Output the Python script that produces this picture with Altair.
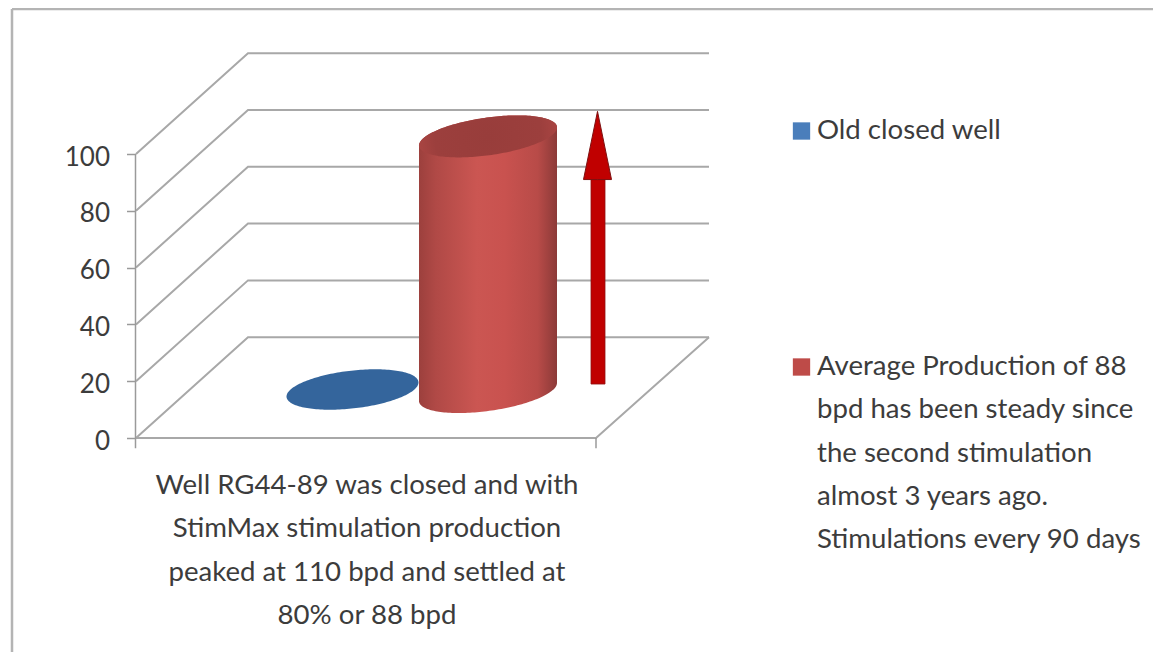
import altair as alt
import numpy as np
import pandas as pd

# ---- values
axis_ticks = [0, 20, 40, 60, 80, 100]
well_values = [0, 90]
category_lines = ["Well RG44-89 was closed and with",
                  "StimMax stimulation production",
                  "peaked at 110 bpd and settled at",
                  "80% or 88 bpd"]
legend_old = ["Old closed well"]
legend_avg = ["Average Production of 88",
              "bpd has been steady since",
              "the second stimulation",
              "almost 3 years ago.",
              "Stimulations every 90 days"]
arrow_base, arrow_neck, arrow_tip = 19, 91, 115

# ---- layout (image pixels; y converted to value units)
W, H = 1145, 644
PX_PER_UNIT = 2.84
Y0 = 438.0
def V(py):
    return (Y0 - py) / PX_PER_UNIT
DEPTH = 35.5
FONT = "Lato"
TXT = "#3c3c3c"
GRID = "#a8a8a8"

X = alt.X("x:Q", axis=None, scale=alt.Scale(domain=[8, 8 + W], nice=False, zero=False))
Y_PLAIN = alt.Y("y:Q", title=None,
                scale=alt.Scale(domain=[V(8 + H), V(8)], nice=False, zero=False),
                axis=alt.Axis(values=axis_ticks, offset=-127.5, domain=False, grid=False,
                              tickSize=9, tickColor="#9a9a9a", tickWidth=1.5,
                              labelFont=FONT, labelFontSize=26, labelColor=TXT,
                              labelPadding=17, labelOffset=3, format="d"))

def ellipse(cx, base, a, b_px, tilt_px, half):
    t = np.linspace(np.pi, 0, 90)
    c = np.cos(t)
    dy = tilt_px * c + half * b_px * np.sin(t)
    return cx + a * c, base + dy / PX_PER_UNIT

# frame
frame_left = pd.DataFrame({"x": [12, 12], "y": [V(8 + H), V(9)]})
frame_top = pd.DataFrame({"x": [12, 8 + W], "y": [V(9), V(9)]})
frame_l = alt.Chart(frame_left).mark_rule(color="#b4b4b4", strokeWidth=2.5).encode(
    alt.X("x:Q", axis=None, scale=alt.Scale(domain=[8, 8 + W], nice=False, zero=False)),
    Y_PLAIN, y2=alt.Y2(datum=V(9)))
frame_t = alt.Chart(frame_top).mark_line(color="#b4b4b4", strokeWidth=2.5).encode(X, Y_PLAIN)

# walls
g = []
for v in axis_ticks:
    for x, d in [(136, 0), (248, DEPTH), (709, DEPTH)]:
        g.append({"x": x, "y": v + d, "lev": v})
grid = alt.Chart(pd.DataFrame(g)).mark_line(color=GRID, strokeWidth=2).encode(X, Y_PLAIN, detail="lev:N")
floor_df = pd.DataFrame({"x": [136, 596, 709], "y": [0, 0, DEPTH]})
floor = alt.Chart(floor_df).mark_line(color=GRID, strokeWidth=2).encode(X, Y_PLAIN)

axis_df = pd.DataFrame({"x": [135.5], "y": [axis_ticks[0] - 3.6], "y2": [axis_ticks[-1]]})
yaxis = alt.Chart(axis_df).mark_rule(color="#9a9a9a", strokeWidth=1.5).encode(X, Y_PLAIN, y2="y2:Q")
xt_df = pd.DataFrame({"x": [596], "y": [-3.6], "y2": [0]})
xtick = alt.Chart(xt_df).mark_rule(color="#9a9a9a", strokeWidth=1.5).encode(X, Y_PLAIN, y2="y2:Q")

# blue flat cylinder
bx, bup = ellipse(352.5, V(389.5) + well_values[0], 66, 19, 7, 1)
_, blo = ellipse(352.5, V(389.5) + well_values[0], 66, 19, 7, -1)
blue = alt.Chart(pd.DataFrame({"x": bx, "y": bup, "y2": blo})).mark_area(color="#34659c").encode(X, Y_PLAIN, y2="y2:Q")

# red cylinder
RCX, RA, RB, RT = 488, 69, 19, 9
base_v = V(392)
top_v = base_v + well_values[1]
rx, tup = ellipse(RCX, top_v, RA, RB, RT, 1)
_, tlo = ellipse(RCX, top_v, RA, RB, RT, -1)
_, bot = ellipse(RCX, base_v, RA, RB, RT, -1)
body_grad = {"gradient": "linear", "x1": 0, "x2": 1, "y1": 0, "y2": 0, "stops": [
    {"offset": 0, "color": "#9c403d"}, {"offset": 0.12, "color": "#b04946"},
    {"offset": 0.42, "color": "#cb5652"}, {"offset": 0.62, "color": "#c9524f"},
    {"offset": 0.86, "color": "#b84b48"}, {"offset": 1, "color": "#8c3a38"}]}
body = alt.Chart(pd.DataFrame({"x": rx, "y": tup, "y2": bot})).mark_area(color=body_grad).encode(X, Y_PLAIN, y2="y2:Q")
top_grad = {"gradient": "radial", "x1": 0.5, "y1": 0.5, "x2": 0.5, "y2": 0.5, "r1": 0, "r2": 0.62, "stops": [
    {"offset": 0, "color": "#983d3b"}, {"offset": 0.62, "color": "#9c3f3d"},
    {"offset": 1, "color": "#b54a47"}]}
top = alt.Chart(pd.DataFrame({"x": rx, "y": tup, "y2": tlo})).mark_area(color=top_grad).encode(X, Y_PLAIN, y2="y2:Q")

# arrow
shaft = alt.Chart(pd.DataFrame({"x": [591, 605], "y": [arrow_neck, arrow_neck], "y2": [arrow_base, arrow_base]})).mark_area(
    color="#c00000", stroke="#8f1010", strokeWidth=0.8).encode(X, Y_PLAIN, y2="y2:Q")
head = alt.Chart(pd.DataFrame({"x": [583.5, 597.5, 611.5], "y": [arrow_neck, arrow_tip, arrow_neck], "y2": [arrow_neck] * 3})).mark_area(
    color="#c00000", stroke="#7d1010", strokeWidth=1).encode(X, Y_PLAIN, y2="y2:Q")

# category text
cat_df = pd.DataFrame({"x": [367] * 4, "y": [V(p) for p in (486, 529, 572.5, 616)], "t": category_lines})
cat = alt.Chart(cat_df).mark_text(font=FONT, fontSize=27.6, color=TXT, align="center", baseline="middle").encode(X, Y_PLAIN, text="t:N")

# legend
sw_df = pd.DataFrame({"x": [801.5, 801.5], "y": [V(131), V(367)], "c": ["#4a7ebb", "#be4b48"]})
swatch = alt.Chart(sw_df).mark_square(size=300, opacity=1).encode(X, Y_PLAIN, color=alt.Color("c:N", scale=None))
leg_df = pd.DataFrame({"x": [817] * 6, "y": [V(p) for p in (131, 367, 410, 453.5, 497, 540)], "t": legend_old + legend_avg})
leg = alt.Chart(leg_df).mark_text(font=FONT, fontSize=27.6, color=TXT, align="left", baseline="middle").encode(X, Y_PLAIN, text="t:N")

chart = alt.layer(frame_t, grid, floor, yaxis, xtick, blue, body, top, shaft, head, cat, swatch, leg).properties(
    width=W, height=H, padding=0, autosize=alt.AutoSizeParams(type="none"), background="#ffffff"
).configure_view(stroke=None)

# left edge of the frame is a second line on the same scales
chart = alt.layer(frame_t,
                  alt.Chart(frame_left).mark_line(color="#b4b4b4", strokeWidth=2.5).encode(
                      X, Y_PLAIN, detail=alt.value("a") if False else "x:N"),
                  grid, floor, yaxis, xtick, blue, body, top, shaft, head, cat, swatch, leg).properties(
    width=W, height=H, padding=0, autosize=alt.AutoSizeParams(type="none"), background="#ffffff"
).configure_view(stroke=None)

chart.save("out.html", embed_options={"renderer": "svg", "actions": False})
